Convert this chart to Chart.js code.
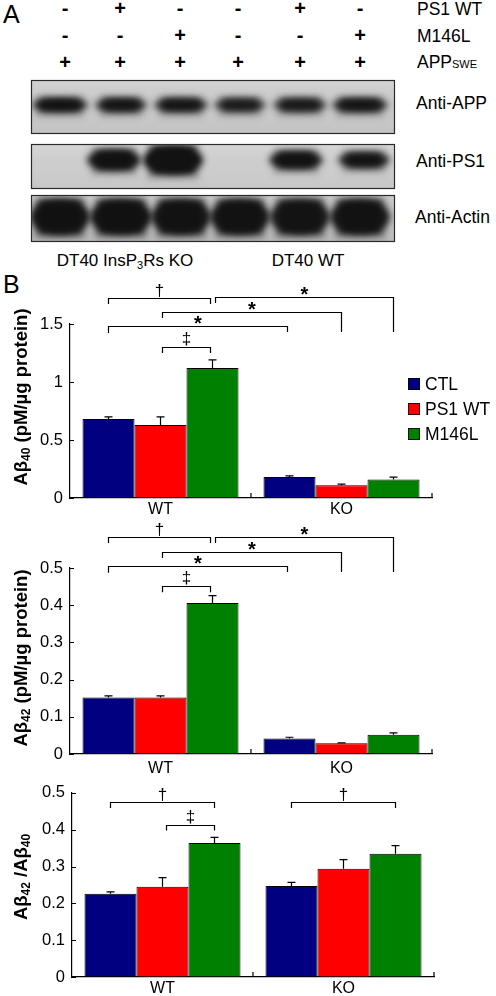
<!DOCTYPE html>
<html>
<head>
<meta charset="utf-8">
<script src="https://cdn.jsdelivr.net/npm/chart.js@4.4.1/dist/chart.umd.min.js"></script>
<style>
    body { margin: 0; background: #fff; width: 496px; height: 996px; position: relative; overflow: hidden;
           font-family: "Liberation Sans", Arial, sans-serif; color: #000; }
    .t { position: absolute; white-space: nowrap; line-height: 1; }
    .pm { font-size: 20px; font-weight: bold; transform: translate(-50%, -50%); }
    .lab { font-size: 17.5px; transform: translateY(-50%); }
    canvas { position: absolute; left: 0; }
    sub { font-size: 11px; vertical-align: -3px; line-height: 0; }
</style>
</head>
<body>

<div class="t" style="left:3px;top:2px;font-size:25px;">A</div>
<div class="t" style="left:3px;top:272px;font-size:25px;">B</div>
<div id="signs"></div>

<div class="t lab" style="left:417px;top:10px;">PS1 WT</div>
<div class="t lab" style="left:417px;top:37px;">M146L</div>
<div class="t lab" style="left:417px;top:63px;">APP<span style="font-size:11px;">SWE</span></div>
<div class="t lab" style="left:416px;top:104px;">Anti-APP</div>
<div class="t lab" style="left:416px;top:162px;">Anti-PS1</div>
<div class="t lab" style="left:415px;top:218px;">Anti-Actin</div>
<div class="t" style="left:125px;top:260px;font-size:17px;transform:translate(-50%,-50%);">DT40 InsP<sub>3</sub>Rs KO</div>
<div class="t" style="left:308px;top:260px;font-size:17px;transform:translate(-50%,-50%);">DT40 WT</div>

<canvas id="blot" width="496" height="250" style="top:0;"></canvas>
<canvas id="ab40Chart" width="496" height="244" style="top:276px;"></canvas>
<canvas id="ab42Chart" width="496" height="262" style="top:514px;"></canvas>
<canvas id="ratioChart" width="496" height="220" style="top:776px;"></canvas>

<script>
// Condiciones de transfección (carriles 1-6)
const ps1Row = ['-', '+', '-', '-', '+', '-'];
const m146lRow = ['-', '-', '+', '-', '-', '+'];
const appRow = ['+', '+', '+', '+', '+', '+'];

// Intensidad de bandas del western blot
const appBands = [0.95, 0.9, 0.88, 0.78, 0.8, 0.9];
const ps1Bands = [0, 0.95, 1, 0, 0.93, 0.9];
const actinBands = [0.95, 0.95, 0.93, 0.93, 0.9, 0.92];

// Datos de las gráficas
const groups = ['WT', 'KO'];
const seriesNames = ['CTL', 'PS1 WT', 'M146L'];
const seriesColors = ['#000080', '#ff0000', '#008000'];

const ab40Ctl = [0.68, 0.18];
const ab40Ps1 = [0.63, 0.11];
const ab40M146 = [1.12, 0.16];
const ab40CtlErr = [0.02, 0.01];
const ab40Ps1Err = [0.07, 0.01];
const ab40M146Err = [0.07, 0.02];
const ab40Ticks = [0, 0.5, 1, 1.5];

const ab42Ctl = [0.152, 0.042];
const ab42Ps1 = [0.152, 0.029];
const ab42M146 = [0.406, 0.052];
const ab42CtlErr = [0.004, 0.003];
const ab42Ps1Err = [0.004, 0.001];
const ab42M146Err = [0.02, 0.005];
const ab42Ticks = [0, 0.1, 0.2, 0.3, 0.4, 0.5];

const ratioCtl = [0.226, 0.247];
const ratioPs1 = [0.245, 0.294];
const ratioM146 = [0.364, 0.335];
const ratioCtlErr = [0.005, 0.01];
const ratioPs1Err = [0.025, 0.025];
const ratioM146Err = [0.015, 0.022];
const ratioTicks = [0, 0.1, 0.2, 0.3, 0.4, 0.5];

// Corchetes de significancia: [serie, grupo] inicio / fin, altura (unidades del eje), patas, símbolo
const ab40Brackets = [
    { a: [0, 0, 0], b: [2, 0, -2], y: 1.724, ya: 1.672, yb: 1.672, sym: '\u2020' },
    { a: [2, 0, 3], b: [2, 1, 0], y: 1.733, ya: 1.681, yb: 1.431, sym: '*' },
    { a: [1, 0, 2], b: [1, 1, 0], y: 1.603, ya: 1.552, yb: 1.431, sym: '*' },
    { a: [0, 0, 0], b: [0, 1, -2], y: 1.483, ya: 1.422, yb: 1.431, sym: '*' },
    { a: [1, 0, 2], b: [2, 0, -2], y: 1.302, ya: 1.25, yb: 1.25, sym: '\u2021' }
];
const ab42Brackets = [
    { a: [0, 0, 0], b: [2, 0, -2], y: 0.583, ya: 0.567, yb: 0.567, sym: '\u2020' },
    { a: [2, 0, 3], b: [2, 1, 0], y: 0.583, ya: 0.567, yb: 0.489, sym: '*' },
    { a: [1, 0, 2], b: [1, 1, 0], y: 0.543, ya: 0.527, yb: 0.489, sym: '*' },
    { a: [0, 0, 0], b: [0, 1, -2], y: 0.505, ya: 0.487, yb: 0.489, sym: '*' },
    { a: [1, 0, 2], b: [2, 0, -2], y: 0.452, ya: 0.435, yb: 0.435, sym: '\u2021' }
];
const ratioBrackets = [
    { a: [0, 0, 0], b: [2, 0, 0], y: 0.475, ya: 0.459, yb: 0.459, sym: '\u2020' },
    { a: [1, 0, 4], b: [2, 0, 0], y: 0.414, ya: 0.398, yb: 0.398, sym: '\u2021' },
    { a: [0, 1, 0], b: [2, 1, 0], y: 0.475, ya: 0.459, yb: 0.459, sym: '\u2020' }
];

// Signos + / -
const pintarSignos = () => {
    const cont = document.getElementById('signs');
    const cols = [65, 120, 180, 238, 300, 360];
    [ps1Row, m146lRow, appRow].forEach((row, r) => {
        row.forEach((s, i) => {
            const d = document.createElement('div');
            d.className = 't pm';
            d.style.left = cols[i] + 'px';
            d.style.top = (8 + r * 27) + 'px';
            d.textContent = s;
            cont.appendChild(d);
        });
    });
};

// Western blot
const pintarBlot = () => {
    const ctx = document.getElementById('blot').getContext('2d');
    const lanes = [60, 121, 181, 240, 300, 360];
    const cajas = [
        { y: 80, h: 53, bg: '#c9c9c9', bands: appBands, cy: 105, bh: 12, bw: [56, 52, 54, 52, 54, 56] },
        { y: 144, h: 44, bg: '#cdcdcd', bands: ps1Bands, cy: 160, bh: 19, bw: [52, 54, 60, 50, 54, 52] },
        { y: 195, h: 46, bg: '#c2c2c2', bands: actinBands, cy: 217, bh: 34, bw: [60, 62, 60, 60, 60, 60] }
    ];
    cajas.forEach((c, k) => {
        ctx.save();
        ctx.fillStyle = c.bg;
        ctx.fillRect(31, c.y, 363, c.h);
        // franja superior más clara
        const grad = ctx.createLinearGradient(0, c.y, 0, c.y + c.h);
        grad.addColorStop(0, 'rgba(255,255,255,0.18)');
        grad.addColorStop(0.4, 'rgba(255,255,255,0)');
        grad.addColorStop(1, 'rgba(0,0,0,0.03)');
        ctx.fillStyle = grad;
        ctx.fillRect(31, c.y, 363, c.h);
        ctx.beginPath();
        ctx.rect(31, c.y, 363, c.h);
        ctx.clip();
        ctx.filter = 'blur(3.5px)';
        c.bands.forEach((v, i) => {
            if (!v) return;
            let bh = c.bh;
            let cx = lanes[i];
            if (k === 1 && i === 2) bh = 27;
            if (k === 1 && i === 1) cx = 114;
            if (k === 1 && i === 2) cx = 173;
            if (k === 1 && i === 4) { cx = 296; bh = 16; }
            if (k === 1 && i === 5) { cx = 364; bh = 14; }
            ctx.fillStyle = 'rgba(14,14,14,' + v + ')';
            ctx.beginPath();
            ctx.ellipse(cx, c.cy, c.bw[i] / 2, bh / 2, 0, 0, Math.PI * 2);
            ctx.fill();
            ctx.fillRect(cx - c.bw[i] / 2 + 8, c.cy - bh / 2, c.bw[i] - 16, bh);
            // halo difuso bajo la banda
            ctx.fillStyle = 'rgba(30,30,30,' + (v * 0.25) + ')';
            ctx.fillRect(cx - c.bw[i] / 2 + 4, c.cy - bh / 2 - 3, c.bw[i] - 8, bh + 9);
        });
        ctx.restore();
        ctx.strokeStyle = '#2a2a2a';
        ctx.lineWidth = 1.2;
        ctx.strokeRect(31.5, c.y + 0.5, 363, c.h);
    });
};

// Plugin: barras de error, marcas, corchetes, título y leyenda
const figuraPlugin = {
    id: 'figura',
    afterDatasetsDraw(chart, args, opts) {
        const { ctx, chartArea: ca, scales: { x, y } } = chart;
        ctx.save();
        ctx.strokeStyle = '#000';
        ctx.fillStyle = '#000';
        ctx.lineWidth = 1.2;

        // barras de error
        opts.errors.forEach((errs, ds) => {
            const meta = chart.getDatasetMeta(ds);
            meta.data.forEach((bar, g) => {
                const val = chart.data.datasets[ds].data[g];
                const top = y.getPixelForValue(val + errs[g]);
                ctx.beginPath();
                ctx.moveTo(bar.x, bar.y);
                ctx.lineTo(bar.x, top);
                ctx.moveTo(bar.x - 4, top);
                ctx.lineTo(bar.x + 4, top);
                ctx.stroke();
            });
        });

        // marcas hacia dentro
        ctx.beginPath();
        opts.ticks.forEach(v => {
            const py = Math.round(y.getPixelForValue(v)) + 0.5;
            ctx.moveTo(ca.left, py);
            ctx.lineTo(ca.left + 4, py);
        });
        [(ca.left + ca.right) / 2, ca.right].forEach(px => {
            ctx.moveTo(px, ca.bottom);
            ctx.lineTo(px, ca.bottom - 5);
        });
        ctx.stroke();

        // corchetes de significancia
        opts.brackets.forEach(b => {
            const xa = chart.getDatasetMeta(b.a[0]).data[b.a[1]].x + b.a[2];
            const xb = chart.getDatasetMeta(b.b[0]).data[b.b[1]].x + b.b[2];
            const py = Math.round(y.getPixelForValue(b.y)) + 0.5;
            ctx.beginPath();
            ctx.moveTo(xa, y.getPixelForValue(b.ya));
            ctx.lineTo(xa, py);
            ctx.lineTo(xb, py);
            ctx.lineTo(xb, y.getPixelForValue(b.yb));
            ctx.stroke();
            const star = b.sym === '*';
            ctx.font = star ? 'bold 20px "Liberation Sans", Arial' : '17px "Liberation Sans", Arial';
            const m = ctx.measureText(b.sym);
            const cy = py - (star ? 7 : 8.5);
            ctx.textAlign = 'center';
            ctx.textBaseline = 'alphabetic';
            ctx.fillText(b.sym, (xa + xb) / 2, cy + (m.actualBoundingBoxAscent - m.actualBoundingBoxDescent) / 2);
        });

        // título del eje Y con subíndices
        ctx.save();
        ctx.translate(22, (ca.top + ca.bottom) / 2 + opts.titleShift);
        ctx.rotate(-Math.PI / 2);
        ctx.textBaseline = 'middle';
        ctx.textAlign = 'left';
        const big = 'bold 18.5px "Liberation Sans", Arial';
        const small = 'bold 12px "Liberation Sans", Arial';
        let total = 0;
        opts.title.forEach(p => { ctx.font = p.sub ? small : big; total += ctx.measureText(p.t).width; });
        let px = -total / 2;
        opts.title.forEach(p => {
            ctx.font = p.sub ? small : big;
            ctx.fillText(p.t, px, p.sub ? 5 : 0);
            px += ctx.measureText(p.t).width;
        });
        ctx.restore();

        // leyenda
        if (opts.legend) {
            ctx.font = '17.5px "Liberation Sans", Arial';
            ctx.textBaseline = 'middle';
            ctx.textAlign = 'left';
            chart.data.datasets.forEach((d, i) => {
                const ly = opts.legend.y + i * 25;
                ctx.fillStyle = d.backgroundColor;
                ctx.fillRect(opts.legend.x, ly - 6, 12, 12);
                ctx.strokeStyle = '#000';
                ctx.lineWidth = 0.8;
                ctx.strokeRect(opts.legend.x + 0.5, ly - 5.5, 11, 11);
                ctx.fillStyle = '#000';
                ctx.fillText(d.label, opts.legend.x + 17, ly + 1);
            });
        }
        ctx.restore();
    }
};

const crearGrafico = (id, cfg) => {
    const el = document.getElementById(id);
    return new Chart(el, {
        type: 'bar',
        data: {
            labels: groups,
            datasets: cfg.series.map((s, i) => ({
                label: seriesNames[i],
                data: s,
                backgroundColor: seriesColors[i],
                borderColor: '#000',
                borderWidth: 1,
                categoryPercentage: 0.862,
                barPercentage: 1
            }))
        },
        options: {
            responsive: false,
            animation: false,
            layout: { padding: { top: cfg.padTop, left: 0, right: 496 - cfg.right, bottom: 0 } },
            plugins: {
                legend: { display: false },
                tooltip: { enabled: false },
                figura: {
                    errors: cfg.errors,
                    ticks: cfg.ticks,
                    brackets: cfg.brackets,
                    title: cfg.title,
                    titleShift: cfg.titleShift,
                    legend: cfg.legend
                }
            },
            scales: {
                x: {
                    grid: { display: true, drawOnChartArea: false, drawTicks: false },
                    border: { color: '#000', width: 1.2 },
                    ticks: { color: '#000', font: { size: 16, family: '"Liberation Sans", Arial' }, padding: cfg.xPad },
                    afterFit: s => { s.height = cfg.xh; }
                },
                y: {
                    min: 0,
                    max: cfg.ticks[cfg.ticks.length - 1],
                    afterBuildTicks: s => { s.ticks = cfg.ticks.map(v => ({ value: v })); },
                    grid: { display: true, drawOnChartArea: false, drawTicks: false },
                    border: { color: '#000', width: 1.2 },
                    ticks: { color: '#000', font: { size: 16.5, family: '"Liberation Sans", Arial' }, padding: 7, callback: v => String(v) },
                    afterFit: s => { s.width = cfg.left; }
                }
            }
        },
        plugins: [figuraPlugin]
    });
};

const inicializarGraficos = () => {
    crearGrafico('ab40Chart', {
        series: [ab40Ctl, ab40Ps1, ab40M146],
        errors: [ab40CtlErr, ab40Ps1Err, ab40M146Err],
        ticks: ab40Ticks,
        brackets: ab40Brackets,
        padTop: 48, xh: 22, xPad: 2, left: 70, right: 432,
        title: [{ t: 'A\u03b2' }, { t: '40', sub: true }, { t: ' (pM/\u00b5g protein)' }],
        titleShift: -14,
        legend: { x: 408, y: 384 - 276 }
    });
    crearGrafico('ab42Chart', {
        series: [ab42Ctl, ab42Ps1, ab42M146],
        errors: [ab42CtlErr, ab42Ps1Err, ab42M146Err],
        ticks: ab42Ticks,
        brackets: ab42Brackets,
        padTop: 54, xh: 22, xPad: 5, left: 70, right: 432,
        title: [{ t: 'A\u03b2' }, { t: '42', sub: true }, { t: ' (pM/\u00b5g protein)' }],
        titleShift: -3
    });
    crearGrafico('ratioChart', {
        series: [ratioCtl, ratioPs1, ratioM146],
        errors: [ratioCtlErr, ratioPs1Err, ratioM146Err],
        ticks: ratioTicks,
        brackets: ratioBrackets,
        padTop: 15, xh: 19, xPad: 2, left: 72, right: 434,
        title: [{ t: 'A\u03b2' }, { t: '42', sub: true }, { t: ' /A\u03b2' }, { t: '40', sub: true }],
        titleShift: -8
    });
};

pintarSignos();
pintarBlot();
inicializarGraficos();
</script>
</body>
</html>
